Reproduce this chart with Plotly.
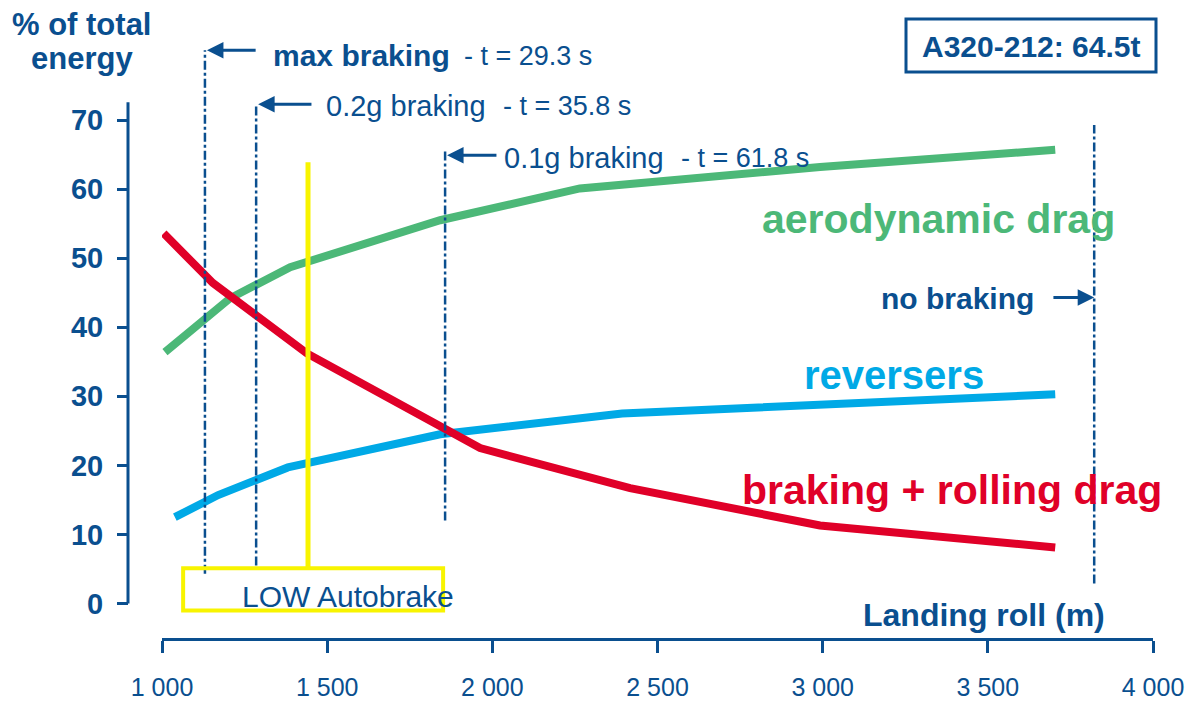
import plotly.graph_objects as go

# ---------------- data ----------------
aero_x = [1009, 1206, 1388, 1842, 2265, 2992, 3704]
aero_y = [36.4, 44.2, 48.7, 55.5, 60.1, 63.2, 65.7]

brake_x = [1005, 1154, 1439, 1963, 2417, 2992, 3704]
brake_y = [53.6, 46.4, 36.2, 22.5, 16.7, 11.3, 8.1]

rev_x = [1039, 1170, 1381, 1842, 2393, 3704]
rev_y = [12.5, 15.7, 19.7, 24.5, 27.5, 30.3]

x_ticks = [1000, 1500, 2000, 2500, 3000, 3500, 4000]
x_ticktext = ["1 000", "1 500", "2 000", "2 500", "3 000", "3 500", "4 000"]
y_ticks = [0, 10, 20, 30, 40, 50, 60, 70]

# braking-case reference lines (landing roll, m) and their vertical extent (%)
case_labels = ["max braking", "0.2g braking", "0.1g braking", "no braking"]
case_times = ["- t = 29.3 s", "- t = 35.8 s", "- t = 61.8 s", ""]
case_x = [1130, 1285, 1857, 3822]
case_top = [80.1, 72.3, 65.7, 69.3]
case_bottom = [4.3, 5.5, 12.0, 2.9]
case_arrow_y = [80.1, 72.3, 64.9, 44.3]
case_arrow_tail = [1288, 1457, 2017, 3694]
case_arrow_head = [1136, 1291, 1863, 3822]

autobrake_x = 1442
autobrake_top = 63.9
autobrake_box = [1064, 1851, -1.0, 5.1]

# ---------------- style ----------------
NAVY = "#0a4f8f"
GREEN = "#4cb878"
LBLUE = "#00a9e6"
RED = "#e00028"
YELLOW = "#f8f400"
FONT = "Liberation Sans, Arial, sans-serif"

W, H = 1192, 702
ML, MR, MT, MB = 128, 39, 40, 64
PW, PH = W - ML - MR, H - MT - MB


def fx(px):
    return (px - ML) / PW


def fy(py):
    return (H - MB - py) / PH


fig = go.Figure()
for xs, ys, col, name in [(aero_x, aero_y, GREEN, "aerodynamic drag"),
                          (rev_x, rev_y, LBLUE, "reversers"),
                          (brake_x, brake_y, RED, "braking + rolling drag")]:
    fig.add_trace(go.Scatter(x=xs, y=ys, mode="lines", name=name,
                             line=dict(color=col, width=8), hoverinfo="skip"))

shapes = []
# y axis line (0..72.6)
shapes.append(dict(type="line", xref="paper", yref="y", x0=0, x1=0, y0=0, y1=72.6,
                   line=dict(color=NAVY, width=3)))
# braking case lines
for xv, y0, y1 in zip(case_x, case_bottom, case_top):
    shapes.append(dict(type="line", xref="x", yref="y", x0=xv, x1=xv, y0=y0, y1=y1,
                       line=dict(color=NAVY, width=2.5, dash="dashdot")))
# LOW autobrake marker
shapes.append(dict(type="line", xref="x", yref="y", x0=autobrake_x, x1=autobrake_x,
                   y0=autobrake_box[3], y1=autobrake_top, line=dict(color=YELLOW, width=5)))
shapes.append(dict(type="rect", xref="x", yref="y", x0=autobrake_box[0], x1=autobrake_box[1],
                   y0=autobrake_box[2], y1=autobrake_box[3], line=dict(color=YELLOW, width=4)))
# A320 box
shapes.append(dict(type="rect", xref="paper", yref="paper", x0=fx(906), x1=fx(1156),
                   y0=fy(72), y1=fy(19), line=dict(color=NAVY, width=3)))

ann = []


def txt(text, px, py, size, color=NAVY, bold=False, xanchor="left"):
    ann.append(dict(text=text, x=fx(px), y=fy(py), xref="paper", yref="paper",
                    xanchor=xanchor, yanchor="middle", showarrow=False, borderpad=0,
                    font=dict(family=FONT, size=size, color=color,
                              weight=700 if bold else 400)))


txt("% of total", 82, 24, 31, bold=True, xanchor="center")
txt("energy", 82, 59, 31, bold=True, xanchor="center")
txt("max braking", 272, 56, 30, bold=True)
txt(case_times[0], 463, 56, 27)
txt("0.2g braking", 325, 106, 29)
txt(case_times[1], 502, 106, 27)
txt("0.1g braking", 503, 158, 29)
txt(case_times[2], 680, 158, 27)
txt("no braking", 880, 298, 30, bold=True)
txt("aerodynamic drag", 761, 219, 41, color=GREEN, bold=True)
txt("reversers", 803, 375, 40, color=LBLUE, bold=True)
txt("braking + rolling drag", 741, 490, 41, color=RED, bold=True)
txt("Landing roll (m)", 862, 615, 32, bold=True)
txt("A320-212: 64.5t", 1031, 46, 30, bold=True, xanchor="center")
txt("LOW Autobrake", 241, 596, 30)

for head, tail, yv in zip(case_arrow_head, case_arrow_tail, case_arrow_y):
    ann.append(dict(x=head, y=yv, ax=tail, ay=yv, xref="x", yref="y", axref="x", ayref="y",
                    text="", showarrow=True, arrowhead=2, arrowsize=1.1, arrowwidth=3,
                    arrowcolor=NAVY))

fig.update_layout(
    width=W, height=H,
    margin=dict(l=ML, r=MR, t=MT, b=MB, autoexpand=False),
    paper_bgcolor="white", plot_bgcolor="white",
    showlegend=False,
    shapes=shapes, annotations=ann,
    xaxis=dict(domain=[fx(162), 1], range=[1000, 4000], tickvals=x_ticks, ticktext=x_ticktext,
               showgrid=False, zeroline=False, showline=True, linecolor=NAVY, linewidth=3,
               ticks="outside", ticklen=12, tickwidth=3, tickcolor=NAVY,
               tickfont=dict(family=FONT, size=25, color=NAVY), ticklabelstandoff=13,
               anchor="y", automargin=False),
    yaxis=dict(domain=[0, 1], range=[-5, 81.6], tickvals=y_ticks,
               showgrid=False, zeroline=False, showline=False,
               ticks="outside", ticklen=11, tickwidth=3, tickcolor=NAVY,
               tickfont=dict(family=FONT, size=29, color=NAVY, weight=700),
               ticklabelstandoff=8, anchor="free", position=0, automargin=False),
)

fig.write_html(
    "out.html",
    config={"displayModeBar": False},
    post_script="document.body.style.margin='0';document.documentElement.style.overflow='hidden';"
                "document.body.style.overflow='hidden';",
)
